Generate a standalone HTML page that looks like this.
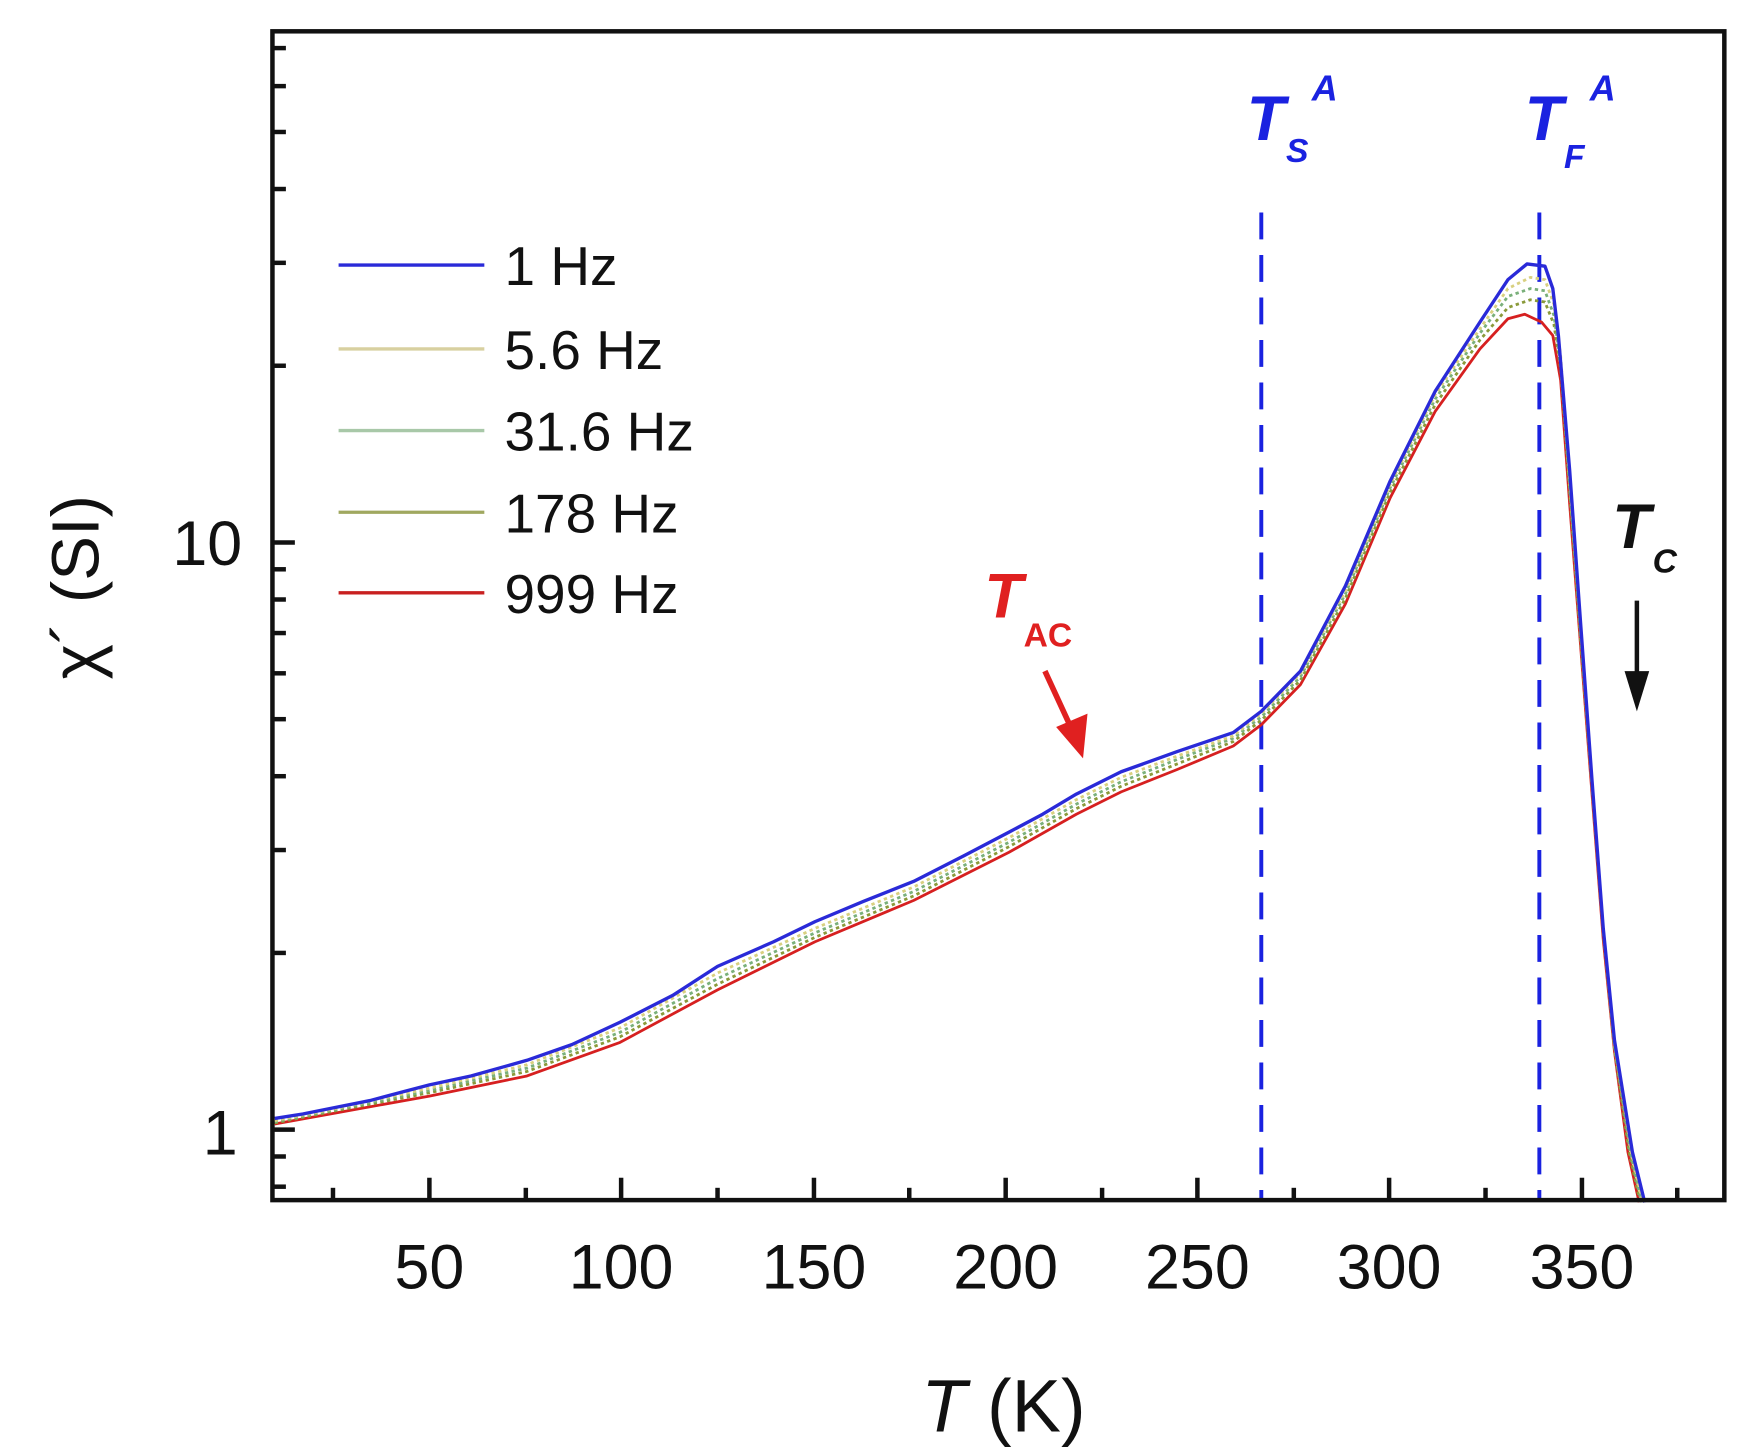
<!DOCTYPE html>
<html><head><meta charset="utf-8"><style>
html,body{margin:0;padding:0;background:#fff;}
svg{display:block;}
text{font-family:"Liberation Sans",Arial,sans-serif;}
</style></head><body>
<svg width="1749" height="1454" viewBox="0 0 1560 1300" preserveAspectRatio="none" xmlns="http://www.w3.org/2000/svg">
<rect width="1560" height="1300" fill="#fff"/>
<line x1="1125" y1="190" x2="1125" y2="1073" stroke="#1a22e0" stroke-width="3.5" stroke-dasharray="24,14"/>
<line x1="1373" y1="190" x2="1373" y2="1073" stroke="#1a22e0" stroke-width="3.5" stroke-dasharray="24,14"/>
<g fill="none" stroke-width="2.5" stroke-linejoin="round">
<polyline stroke="#d62020" points="245,1005 300,995 383,980 470,962 553,932 640,885 727,842 815,805 900,762 960,728 1000,708 1050,688 1100,667 1125,648 1160,612 1200,540 1240,445 1280,368 1320,312 1345,285 1360,281 1375,288 1385,300 1392,340 1400,450 1410,580 1420,710 1430,840 1440,940 1452,1030 1462,1075"/>
<polyline stroke="#8a9a3a" stroke-dasharray="3,3" points="245,1004 300,993 383,977 470,958 553,927 640,880 727,838 815,801 900,757 960,723 1000,703 1050,683 1100,663 1125,644 1160,608 1200,535 1240,440 1280,362 1320,304 1345,275 1365,268 1378,270 1386,290 1392,330 1400,440 1410,575 1420,705 1430,835 1440,938 1453,1030 1463,1075"/>
<polyline stroke="#7ab07a" stroke-dasharray="3,3" points="245,1003 300,992 383,975 470,955 553,923 640,875 727,834 815,797 900,753 960,719 1000,699 1050,679 1100,660 1125,641 1160,605 1200,531 1240,436 1280,357 1320,298 1345,265 1365,258 1378,260 1386,282 1392,325 1400,435 1410,570 1420,702 1430,832 1440,935 1454,1030 1464,1075"/>
<polyline stroke="#d8d080" stroke-dasharray="3,3" points="245,1002 300,991 383,973 470,952 553,919 640,870 727,830 815,793 900,749 960,715 1000,695 1050,676 1100,658 1125,638 1160,602 1200,528 1240,433 1280,353 1320,294 1345,258 1365,248 1378,250 1386,272 1392,318 1400,430 1410,565 1420,700 1430,830 1440,933 1455,1030 1465,1075"/>
<polyline stroke="#2a2ad8" stroke-width="3" points="245,1000 270,996 300,990 330,984 360,976 383,970 420,962 470,948 510,934 553,914 600,890 640,864 690,842 727,824 770,806 815,788 860,765 900,744 930,728 960,710 1000,690 1050,672 1100,655 1125,636 1160,600 1200,524 1240,430 1280,350 1320,288 1345,250 1362,236 1378,238 1385,258 1390,300 1400,420 1410,560 1420,698 1430,830 1440,930 1456,1030 1467,1075"/>
</g>
<rect x="243" y="28" width="1295" height="1045" fill="none" stroke="#111" stroke-width="4"/>
<g stroke="#111" stroke-width="4">
<line x1="243" y1="485" x2="263" y2="485"/><line x1="243" y1="1010" x2="263" y2="1010"/>
<line x1="243" y1="1061" x2="255" y2="1061"/><line x1="243" y1="1034" x2="255" y2="1034"/>
<line x1="243" y1="852" x2="255" y2="852"/><line x1="243" y1="760" x2="255" y2="760"/>
<line x1="243" y1="694" x2="255" y2="694"/><line x1="243" y1="643" x2="255" y2="643"/>
<line x1="243" y1="602" x2="255" y2="602"/><line x1="243" y1="566" x2="255" y2="566"/>
<line x1="243" y1="536" x2="255" y2="536"/><line x1="243" y1="509" x2="255" y2="509"/>
<line x1="243" y1="327" x2="255" y2="327"/><line x1="243" y1="235" x2="255" y2="235"/>
<line x1="243" y1="169" x2="255" y2="169"/><line x1="243" y1="118" x2="255" y2="118"/>
<line x1="243" y1="77" x2="255" y2="77"/><line x1="243" y1="43" x2="255" y2="43"/>
<line x1="383" y1="1073" x2="383" y2="1053"/><line x1="554" y1="1073" x2="554" y2="1053"/>
<line x1="726" y1="1073" x2="726" y2="1053"/><line x1="897" y1="1073" x2="897" y2="1053"/>
<line x1="1068" y1="1073" x2="1068" y2="1053"/><line x1="1239" y1="1073" x2="1239" y2="1053"/>
<line x1="1411" y1="1073" x2="1411" y2="1053"/>
<line x1="297" y1="1073" x2="297" y2="1062"/><line x1="469" y1="1073" x2="469" y2="1062"/>
<line x1="640" y1="1073" x2="640" y2="1062"/><line x1="811" y1="1073" x2="811" y2="1062"/>
<line x1="983" y1="1073" x2="983" y2="1062"/><line x1="1154" y1="1073" x2="1154" y2="1062"/>
<line x1="1325" y1="1073" x2="1325" y2="1062"/><line x1="1496" y1="1073" x2="1496" y2="1062"/>
</g>
<g font-size="56" fill="#111" text-anchor="middle">
<text x="383" y="1152">50</text><text x="554" y="1152">100</text><text x="726" y="1152">150</text>
<text x="897" y="1152">200</text><text x="1068" y="1152">250</text><text x="1239" y="1152">300</text>
<text x="1411" y="1152">350</text>
</g>
<g font-size="56" fill="#111" text-anchor="end">
<text x="216" y="505">10</text><text x="212" y="1032">1</text>
</g>
<text x="895" y="1280" font-size="66" fill="#111" text-anchor="middle"><tspan font-style="italic">T</tspan> (K)</text>
<text transform="translate(88,525) rotate(-90)" font-size="60" fill="#111" text-anchor="middle" font-family="Liberation Serif, serif">χ´ (SI)</text>
<g stroke-width="3">
<line x1="302" y1="237" x2="432" y2="237" stroke="#2a2ad8"/>
<line x1="302" y1="312" x2="432" y2="312" stroke="#d8d0a0"/>
<line x1="302" y1="385" x2="432" y2="385" stroke="#a8c8a8"/>
<line x1="302" y1="458" x2="432" y2="458" stroke="#a0a860"/>
<line x1="302" y1="530" x2="432" y2="530" stroke="#c82020"/>
</g>
<g font-size="49" fill="#111">
<text x="450" y="255">1 Hz</text><text x="450" y="330">5.6 Hz</text><text x="450" y="403">31.6 Hz</text>
<text x="450" y="476">178 Hz</text><text x="450" y="548">999 Hz</text>
</g>
<g font-weight="bold" font-style="italic">
<text x="1112" y="125" font-size="56" fill="#1a22e0">T</text>
<text x="1147" y="145" font-size="30" fill="#1a22e0">S</text>
<text x="1170" y="90" font-size="32" fill="#1a22e0">A</text>
<text x="1360" y="125" font-size="56" fill="#1a22e0">T</text>
<text x="1395" y="150" font-size="30" fill="#1a22e0">F</text>
<text x="1418" y="90" font-size="32" fill="#1a22e0">A</text>
<text x="878" y="552" font-size="56" fill="#e02020">T</text>
<text x="913" y="578" font-size="30" fill="#e02020" font-style="normal">AC</text>
<text x="1438" y="490" font-size="56" fill="#111">T</text>
<text x="1474" y="512" font-size="30" fill="#111">C</text>
</g>
<line x1="932" y1="600" x2="955" y2="650" stroke="#e02020" stroke-width="5"/>
<polygon points="942,650 966,678 970,638" fill="#e02020"/>
<line x1="1460" y1="537" x2="1460" y2="605" stroke="#111" stroke-width="4"/>
<polygon points="1449,600 1471,600 1460,636" fill="#111"/>
</svg>
</body></html>
